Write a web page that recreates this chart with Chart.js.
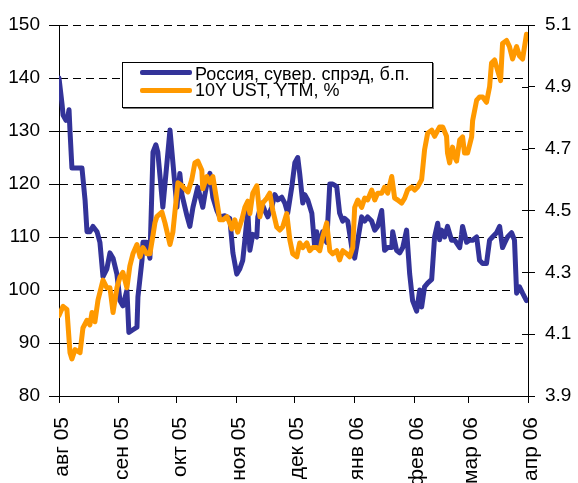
<!DOCTYPE html>
<html>
<head>
<meta charset="utf-8">
<script src="https://cdn.jsdelivr.net/npm/chart.js@4.4.1/dist/chart.umd.min.js"></script>
<style>
    body { margin: 0; background: #fff; }
    #wrap { position: relative; width: 578px; height: 483px; }
    #legenda { position: absolute; left: 122px; top: 62px; width: 309px; height: 44px; border: 1px solid #000; background: #fff; box-shadow: 1px 1px 0 #777; }
    .linea { position: absolute; left: 17px; width: 52px; height: 5px; border-radius: 2px; }
    .texto { position: absolute; left: 72px; font-family: "Liberation Sans", Arial, sans-serif; font-size: 18px; line-height: 18px; color: #000; white-space: nowrap; }
</style>
</head>
<body>
<div id="wrap">
    <canvas id="grafico" width="578" height="483"></canvas>
    <div id="legenda">
        <div class="linea" style="top: 7px; background: #333399;"></div>
        <div class="texto" id="etiqueta1" style="top: 2px;"></div>
        <div class="linea" style="top: 25px; background: #FF9900;"></div>
        <div class="texto" id="etiqueta2" style="top: 18px;"></div>
    </div>
</div>
<script>
// dias desde 1 ago 2005
const mesesDias = [0, 31, 61, 92, 122, 153, 184, 212, 243];
const mesesEtiquetas = ['авг 05', 'сен 05', 'окт 05', 'ноя 05', 'дек 05', 'янв 06', 'фев 06', 'мар 06', 'апр 06'];

const nombreSpread = 'Россия, сувер. спрэд, б.п.';
const nombreUst = '10Y UST, YTM, %';

const spreadDias = [0, 1.6, 2.1, 3.6, 4.7, 5.2, 5.7, 6.7, 8.3, 11.9, 13.5, 14.5, 16.0, 17.6, 19.7, 21.2, 22.8, 24.8, 26.4, 28.0,
    30.0, 31.6, 33.1, 35.2, 36.2, 38.3, 40.4, 40.9, 43.0, 43.5, 45.5, 47.1, 48.7, 50.2, 51.2, 53.8, 57.5, 61.1, 62.6, 63.7,
    66.3, 67.8, 69.4, 71.9, 74.5, 75.6, 76.6, 78.2, 79.7, 81.8, 83.3, 85.9, 88.5, 90.1, 92.1, 93.7, 95.2, 96.3, 97.8, 98.9,
    100.4, 102.5, 103.0, 105.1, 106.6, 108.2, 110.2, 111.8, 113.4, 115.4, 117.0, 118.5, 120.6, 122.2, 123.7, 124.7, 126.3, 127.3, 128.9, 131.0,
    132.5, 133.5, 135.1, 136.6, 138.7, 140.3, 141.8, 143.9, 145.4, 147.0, 148.0, 149.6, 151.7, 153.2, 154.8, 156.8, 158.4, 159.9, 162.0, 163.6,
    165.1, 167.2, 168.7, 170.3, 172.4, 172.9, 174.9, 176.5, 178.1, 180.1, 181.7, 183.2, 185.3, 186.9, 187.9, 189.4, 191.0, 193.1, 194.6, 196.2,
    197.2, 198.2, 199.8, 201.3, 203.4, 205.0, 207.6, 208.6, 209.1, 211.2, 212.7, 214.3, 216.4, 217.9, 219.5, 221.5, 223.1, 224.6, 226.7, 228.3,
    229.8, 230.8, 232.4, 234.5, 236.0, 237.1, 238.6, 240.2, 242.2];
const spreadValores = [140, 135, 133, 132, 133, 134, 130, 123, 123, 123, 117, 111, 111, 112, 111, 109, 102.5, 104, 107, 106,
    103, 98, 97, 100, 92, 92.5, 93, 98.7, 105.6, 109, 109, 106, 126, 127.4, 126, 115.6, 130.2, 115.6, 122, 118,
    114, 112, 115.6, 119.4, 115.6, 118, 120, 122, 117.5, 115, 113.8, 114, 113.5, 107, 103, 104, 105.6, 109.4, 115, 107.5,
    110.5, 110, 113.8, 116.4, 115, 113.8, 115.6, 118, 117, 117.5, 116.4, 114.5, 119.4, 124, 125, 122, 116.4, 118, 117, 114.5,
    108, 111, 108, 111, 109, 120, 120, 119.5, 114.5, 113, 113.5, 113, 108, 106, 109.4, 113.8, 113, 113.8, 113, 111.3,
    112, 115, 107.5, 108, 108, 111, 107.5, 107, 108, 111.3, 103, 98, 96, 100, 96.8, 100.6, 101.3, 102, 110, 112.6,
    109.5, 111.3, 110, 112, 109.4, 109.4, 108, 110.5, 112, 109, 109.4, 109.4, 110, 105.6, 105, 105, 109.4, 110, 110.8, 112,
    108, 108.8, 110, 110.8, 109.4, 99.4, 100.6, 99.4, 98];

const ustDias = [0, 2.1, 4.1, 5.7, 6.7, 8.3, 10.9, 12.4, 14.5, 16.0, 17.1, 18.6, 20.2, 22.8, 24.8, 26.4, 28.0, 30.0, 31.6, 33.1,
    35.2, 36.7, 38.3, 40.4, 42.0, 43.5, 45.5, 47.1, 48.7, 49.7, 50.7, 53.3, 54.9, 57.5, 59.0, 61.1, 61.6, 63.7, 65.2, 66.8,
    68.8, 70.4, 71.9, 74.0, 74.5, 76.6, 78.2, 79.7, 81.8, 83.3, 85.0, 87.0, 88.5, 89.5, 91.1, 92.6, 94.7, 96.3, 97.8, 98.9,
    100.4, 102.5, 104.1, 105.6, 107.7, 109.2, 110.8, 112.8, 114.4, 115.9, 118.0, 119.6, 121.1, 123.2, 124.7, 126.3, 128.4, 129.9, 131.5, 133.5,
    135.1, 136.6, 138.7, 140.3, 141.8, 143.9, 145.4, 147.0, 149.1, 150.6, 152.2, 153.2, 154.8, 156.8, 158.4, 159.9, 162.0, 163.6, 165.1, 167.2,
    168.7, 170.3, 172.4, 173.9, 175.5, 177.5, 179.1, 180.6, 182.7, 184.3, 185.8, 187.9, 189.4, 191.0, 193.1, 194.6, 197.2, 198.8, 200.8, 201.3,
    202.4, 203.9, 205.0, 206.0, 207.6, 209.1, 210.1, 211.7, 213.8, 214.3, 216.4, 217.9, 219.5, 221.5, 223.1, 224.1, 225.7, 227.2, 228.8, 229.8,
    231.9, 233.4, 235.0, 237.1, 238.6, 240.2, 242.2];
const ustValores = [4.16, 4.19, 4.18, 4.04, 4.02, 4.05, 4.04, 4.12, 4.145, 4.13, 4.17, 4.14, 4.21, 4.275, 4.25, 4.25, 4.17, 4.25, 4.285, 4.3,
    4.25, 4.32, 4.36, 4.39, 4.35, 4.38, 4.36, 4.36, 4.42, 4.46, 4.48, 4.495, 4.46, 4.39, 4.43, 4.56, 4.59, 4.58, 4.57, 4.56,
    4.6, 4.654, 4.66, 4.63, 4.57, 4.61, 4.59, 4.61, 4.53, 4.47, 4.47, 4.48, 4.46, 4.44, 4.47, 4.43, 4.47, 4.51, 4.53, 4.49,
    4.556, 4.58, 4.48, 4.525, 4.54, 4.556, 4.5, 4.447, 4.437, 4.447, 4.49, 4.405, 4.36, 4.35, 4.395, 4.38, 4.395, 4.37, 4.38, 4.38,
    4.37, 4.414, 4.46, 4.37, 4.36, 4.37, 4.34, 4.37, 4.36, 4.35, 4.38, 4.51, 4.534, 4.51, 4.54, 4.534, 4.566, 4.534, 4.556, 4.556,
    4.576, 4.556, 4.61, 4.54, 4.534, 4.524, 4.54, 4.566, 4.576, 4.566, 4.576, 4.6, 4.696, 4.75, 4.76, 4.74, 4.77, 4.77, 4.74, 4.686,
    4.654, 4.705, 4.673, 4.66, 4.728, 4.738, 4.686, 4.686, 4.738, 4.79, 4.857, 4.867, 4.867, 4.85, 4.9, 4.977, 4.987, 4.954, 4.92, 5.04,
    5.05, 5.03, 4.99, 5.03, 5.0, 4.99, 5.07];

const fuente = "'Liberation Sans', Arial, sans-serif";

function juntar(dias, valores) {
    let puntos = [];
    for (let i = 0; i < dias.length; i++) {
        puntos.push({x: dias[i], y: valores[i]});
    }
    return puntos;
}

// marcas del eje derecho que cruzan hacia dentro
const marcasDerecha = {
    id: 'marcasDerecha',
    afterDraw(chart) {
        const eje = chart.scales.y2;
        const ctx = chart.ctx;
        ctx.save();
        ctx.strokeStyle = '#000';
        ctx.lineWidth = 1;
        eje.ticks.forEach(t => {
            const y = Math.round(eje.getPixelForValue(t.value)) + 0.5;
            ctx.beginPath();
            ctx.moveTo(eje.left - 6, y);
            ctx.lineTo(eje.left, y);
            ctx.stroke();
        });
        ctx.restore();
    }
};

document.getElementById('etiqueta1').textContent = nombreSpread;
document.getElementById('etiqueta2').textContent = nombreUst;

const grafico = new Chart(document.getElementById('grafico'), {
    type: 'line',
    data: {
        datasets: [{
            label: nombreSpread,
            data: juntar(spreadDias, spreadValores),
            borderColor: '#333399',
            borderWidth: 5,
            yAxisID: 'y',
            order: 2
        }, {
            label: nombreUst,
            data: juntar(ustDias, ustValores),
            borderColor: '#FF9900',
            borderWidth: 5,
            yAxisID: 'y2',
            order: 1
        }]
    },
    options: {
        responsive: false,
        animation: false,
        layout: {padding: {top: 25, left: 0, right: 0, bottom: 0}},
        elements: {
            point: {radius: 0},
            line: {tension: 0, borderJoinStyle: 'round', borderCapStyle: 'round'}
        },
        plugins: {
            legend: {display: false},
            tooltip: {enabled: false}
        },
        scales: {
            x: {
                type: 'linear',
                min: 0,
                max: 243,
                afterBuildTicks: eje => { eje.ticks = mesesDias.map(v => ({value: v})); },
                afterFit: eje => { eje.height = 87; },
                grid: {drawOnChartArea: false, color: '#000', tickLength: 7},
                border: {color: '#000', width: 1},
                ticks: {
                    autoSkip: false,
                    maxRotation: 90,
                    minRotation: 90,
                    padding: 14,
                    labelOffset: 3,
                    color: '#000',
                    font: {family: fuente, size: 21},
                    callback: v => mesesEtiquetas[mesesDias.indexOf(v)]
                }
            },
            y: {
                position: 'left',
                min: 80,
                max: 150,
                afterFit: eje => { eje.width = 59; },
                grid: {color: '#000', tickLength: 10, tickBorderDash: []},
                border: {color: '#000', width: 1, dash: [8, 5]},
                ticks: {
                    stepSize: 10,
                    padding: 9,
                    color: '#000',
                    font: {family: fuente, size: 19}
                }
            },
            y2: {
                position: 'right',
                min: 3.9,
                max: 5.1,
                afterFit: eje => { eje.width = 50; },
                grid: {drawOnChartArea: false, color: '#000', tickLength: 7},
                border: {color: '#000', width: 1},
                ticks: {
                    stepSize: 0.2,
                    padding: 10,
                    color: '#000',
                    font: {family: fuente, size: 19},
                    callback: v => v.toFixed(1)
                }
            }
        }
    },
    plugins: [marcasDerecha]
});
</script>
</body>
</html>
